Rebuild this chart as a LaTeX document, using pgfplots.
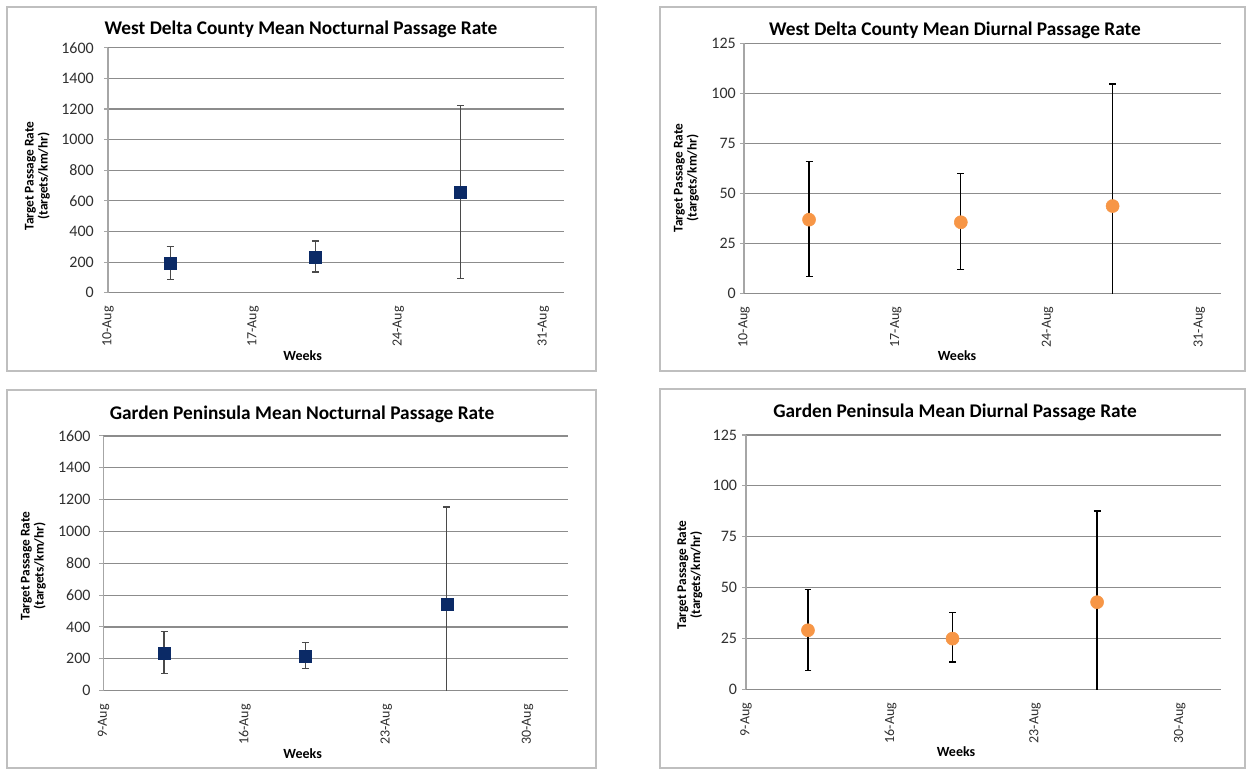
\documentclass[border=0pt]{standalone}
\usepackage{fontspec}
\setmainfont{Carlito}
\usepackage{pgfplots}
\pgfplotsset{compat=1.18}
\definecolor{navy}{HTML}{0B2A66}
\definecolor{orng}{HTML}{F79646}
\definecolor{gridc}{HTML}{8C8C8C}
\definecolor{axc}{HTML}{A6A6A6}
\definecolor{framec}{HTML}{BFBFBF}
\definecolor{ticktext}{HTML}{303030}
\definecolor{errgray}{HTML}{4A4A4A}

\pgfplotsset{
  panel/.style={
    scale only axis,
    axis x line*=bottom, axis y line*=left,
    x axis line style={-, draw=gridc, line width=0.9pt},
    y axis line style={-, draw=axc, line width=0.8pt},
    ymajorgrids, grid style={draw=gridc, line width=0.9pt},
    xmin=0, ymin=0,
    xtick={0,7,14,21},
    xtick style={draw=none},
    ytick style={draw=axc, line width=0.8pt},
    tick align=outside, major tick length=3pt,
    /pgf/number format/assume math mode=true,
    /pgf/number format/1000 sep={},
    yticklabel style={font=\fontsize{12}{13}\selectfont, text=ticktext, anchor=east, inner sep=0pt},
    xticklabel style={font=\fontsize{10.5}{11}\selectfont, text=ticktext, rotate=90, anchor=east, inner sep=0pt, inner xsep=7pt},
    clip=true,
  },
  noct/.style={panel, ymax=1600, ytick={0,200,...,1600}},
  diur/.style={panel, ymax=125, ytick={0,25,...,125}},
}

\begin{document}
\begin{tikzpicture}
\path[use as bounding box, fill=white] (0pt,0pt) rectangle (936pt,578.25pt);

% frames
\draw[framec, line width=1.1pt] (5.25pt,300pt) rectangle (447pt,573pt);
\draw[framec, line width=1.1pt] (495pt,300pt) rectangle (933.75pt,573pt);
\draw[framec, line width=1.1pt] (5.25pt,2.25pt) rectangle (447pt,285.75pt);
\draw[framec, line width=1.1pt] (495pt,2.25pt) rectangle (933.75pt,286.5pt);

% ---------- Top left ----------
\begin{axis}[noct, at={(81pt,358.7pt)}, anchor=south west,
  width=342pt, height=183.75pt, xmax=22,
  xticklabels={10-Aug,17-Aug,24-Aug,31-Aug},
  yticklabel style={inner xsep=7.5pt}]
\addplot[only marks, mark=square*, mark size=4.5pt, mark options={draw=navy, fill=navy},
  error bars/.cd, y dir=both, y explicit,
  error bar style={line width=1pt, draw=errgray},
  error mark options={rotate=90, line width=1pt, draw=errgray, mark size=2.6pt}]
  table[x=x, y=y, y error plus=ep, y error minus=em] {
  x  y    ep   em
  3  192  108  105
  10 231  106  96
  17 657  567  562
  };
\end{axis}

% ---------- Top right ----------
\begin{axis}[diur, at={(558pt,358.3pt)}, anchor=south west,
  width=357.75pt, height=187.5pt, xmax=22,
  xticklabels={10-Aug,17-Aug,24-Aug,31-Aug},
  yticklabel style={inner xsep=3pt}]
\addplot[only marks, mark=*, mark size=4.9pt, mark options={draw=orng, fill=orng},
  error bars/.cd, y dir=both, y explicit,
  error bar style={line width=1pt, draw=black},
  error mark options={rotate=90, line width=1pt, draw=black, mark size=2.6pt}]
  table[x=x, y=y, y error plus=ep, y error minus=em] {
  x  y     ep    em
  3  36.8  29.2  28.5
  10 35.5  24.3  23.5
  17 43.6  61.0  61.0
  };
\end{axis}

% ---------- Bottom left ----------
\begin{axis}[noct, at={(77.6pt,60.3pt)}, anchor=south west,
  width=348.4pt, height=191pt, xmax=23,
  xticklabels={9-Aug,16-Aug,23-Aug,30-Aug},
  yticklabel style={inner xsep=6.5pt}]
\addplot[only marks, mark=square*, mark size=4.5pt, mark options={draw=navy, fill=navy},
  error bars/.cd, y dir=both, y explicit,
  error bar style={line width=1pt, draw=errgray},
  error mark options={rotate=90, line width=1pt, draw=errgray, mark size=2.6pt}]
  table[x=x, y=y, y error plus=ep, y error minus=em] {
  x  y    ep   em
  3  235  135  126
  10 214  90   74
  17 545  608  608
  };
\end{axis}

% ---------- Bottom right ----------
\begin{axis}[diur, at={(559.5pt,61.3pt)}, anchor=south west,
  width=356.25pt, height=190.7pt, xmax=23,
  xticklabels={9-Aug,16-Aug,23-Aug,30-Aug},
  yticklabel style={inner xsep=3.5pt}]
\addplot[only marks, mark=*, mark size=4.9pt, mark options={draw=orng, fill=orng},
  error bars/.cd, y dir=both, y explicit,
  error bar style={line width=1pt, draw=black},
  error mark options={rotate=90, line width=1pt, draw=black, mark size=2.6pt}]
  table[x=x, y=y, y error plus=ep, y error minus=em] {
  x  y     ep    em
  3  29.0  20.0  19.7
  10 24.9  12.9  11.5
  17 42.8  44.8  44.8
  };
\end{axis}

% titles
\begin{scope}[every node/.style={font=\bfseries\fontsize{14.5}{16}\selectfont, anchor=base, inner sep=0pt}]
\node at (225.75pt,552pt) {West Delta County Mean Nocturnal Passage Rate};
\node at (716.25pt,551.6pt) {West Delta County Mean Diurnal Passage Rate};
\node at (226.5pt,263.25pt) {Garden Peninsula Mean Nocturnal Passage Rate};
\node at (716.25pt,264.75pt) {Garden Peninsula Mean Diurnal Passage Rate};
\end{scope}

% x labels
\begin{scope}[every node/.style={font=\bfseries\fontsize{10.5}{12}\selectfont, inner sep=0pt}]
\node at (227pt,311.5pt) {Weeks};
\node at (717.75pt,311.5pt) {Weeks};
\node at (227pt,12.75pt) {Weeks};
\node at (717pt,14.25pt) {Weeks};
\end{scope}

% y labels
\begin{scope}[every node/.style={font=\bfseries\fontsize{10}{10.5}\selectfont, rotate=90, align=center, inner sep=0pt}]
\node at (28.1pt,446.25pt) {Target Passage Rate\\(targets/km/hr)};
\node at (514.9pt,444.75pt) {Target Passage Rate\\(targets/km/hr)};
\node at (25.1pt,153.75pt) {Target Passage Rate\\(targets/km/hr)};
\node at (517.5pt,147pt) {Target Passage Rate\\(targets/km/hr)};
\end{scope}
\end{tikzpicture}
\end{document}
